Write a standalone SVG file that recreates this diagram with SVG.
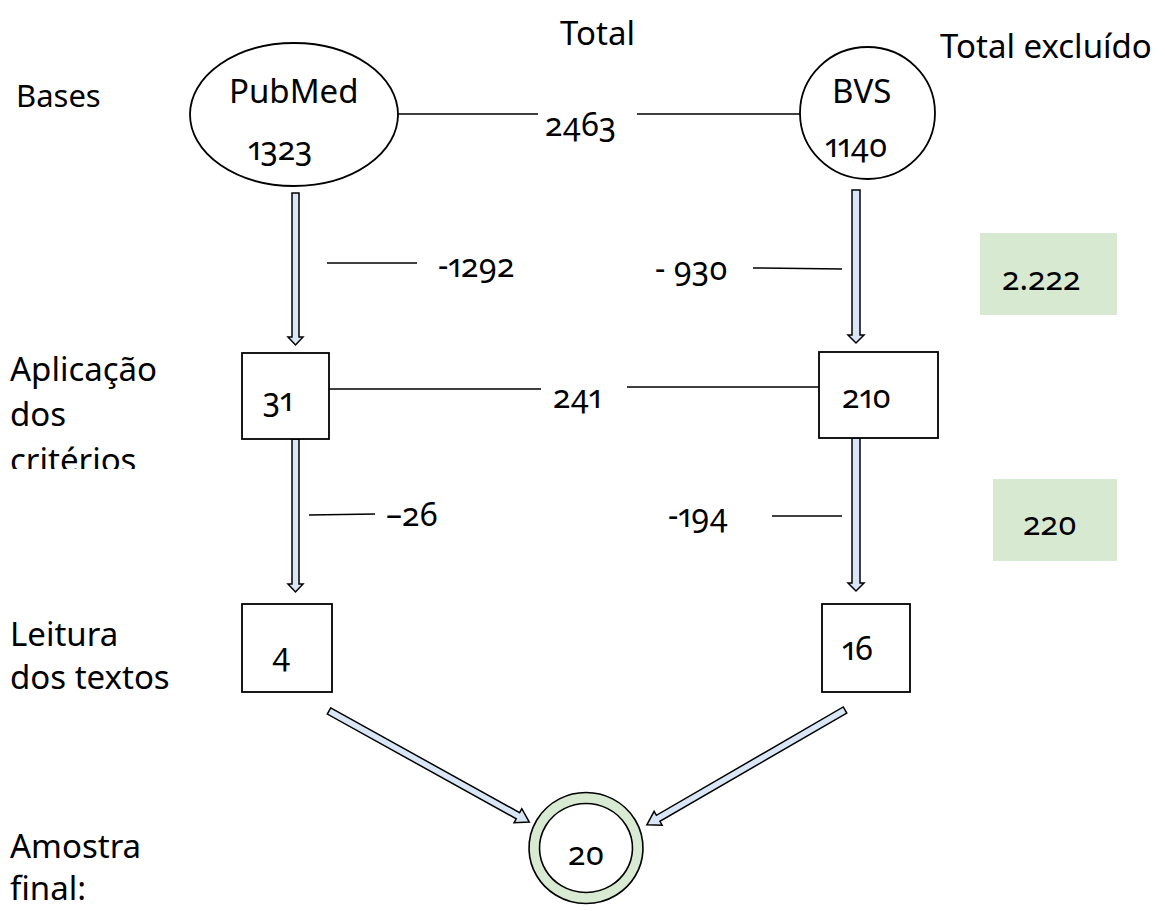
<svg xmlns="http://www.w3.org/2000/svg" width="1165" height="911" viewBox="0 0 1165 911">
<style>
  text { font-family: "Noto Sans", "Open Sans", "DejaVu Sans", sans-serif; fill: #000; font-variant-numeric: oldstyle-nums proportional-nums; }
  .lbl { font-size: 33px; }
  .num { font-size: 32px; }
  .node { fill: #fff; stroke: #000; stroke-width: 1.8; }
  .conn { stroke: #000; stroke-width: 1.5; fill: none; }
  .arr { fill: #d9e6f5; stroke: #000; stroke-width: 1.5; stroke-linejoin: miter; }
  .green { fill: #d8e9d2; }
</style>
<defs>
  <clipPath id="clipCrit"><rect x="0" y="330" width="220" height="139"/></clipPath>
</defs>

<g id="labels">
  <text class="lbl" x="16" y="107" style="font-size:31px">Bases</text>
  <text class="lbl" x="560" y="45">Total</text>
  <text class="lbl" x="940" y="58">Total excluído</text>
  <g clip-path="url(#clipCrit)">
    <text class="lbl" x="10" y="381">Aplicação</text>
    <text class="lbl" x="10" y="426">dos</text>
    <text class="lbl" x="10" y="472">critérios</text>
  </g>
  <text class="lbl" x="10" y="646">Leitura</text>
  <text class="lbl" x="10" y="689">dos textos</text>
  <text class="lbl" x="10" y="858">Amostra</text>
  <text class="lbl" x="10" y="900">final:</text>
</g>

<g id="connectors">
  <line class="conn" x1="397" y1="114" x2="538" y2="114"/>
  <line class="conn" x1="637" y1="114" x2="800" y2="114"/>
  <line class="conn" x1="327" y1="263" x2="417" y2="263"/>
  <line class="conn" x1="753" y1="268" x2="842" y2="269"/>
  <line class="conn" x1="329" y1="389" x2="541" y2="389"/>
  <line class="conn" x1="627" y1="387" x2="819" y2="387"/>
  <line class="conn" x1="309" y1="515" x2="375" y2="514"/>
  <line class="conn" x1="772" y1="516" x2="842" y2="516"/>
  <text class="num" x="545" y="136">2463</text>
  <text class="num" x="438" y="277">-1292</text>
  <text class="num" x="655" y="280">- 930</text>
  <text class="num" x="553" y="408">241</text>
  <text class="num" x="386" y="526">–26</text>
  <text class="num" x="668" y="527">-194</text>
  <path class="arr" d="M292,193 L299,193 L299,337 L303,337 L295.5,345 L288,337 L292,337 Z"/>
  <path class="arr" d="M852,190 L860,190 L860,335 L864,335 L856,343 L848,335 L852,335 Z"/>
  <path class="arr" d="M292,439 L299,439 L299,584 L303,584 L295.5,592 L288,584 L292,584 Z"/>
  <path class="arr" d="M852,438 L860,438 L860,583 L864,583 L856,591 L848,583 L852,583 Z"/>
  <path class="arr" transform="translate(329,711) rotate(29)" d="M0,-3.5 L216,-3.5 L216,-8 L229,0 L216,8 L216,3.5 L0,3.5 Z"/>
  <path class="arr" transform="translate(845,710) rotate(149.9)" d="M0,-3.5 L216,-3.5 L216,-8 L229,0 L216,8 L216,3.5 L0,3.5 Z"/>
</g>

<g id="node-pubmed">
  <ellipse class="node" cx="294" cy="114.5" rx="104" ry="71.5"/>
  <text class="lbl" x="229" y="103">PubMed</text>
  <text class="num" x="248" y="160">1323</text>
</g>
<g id="node-bvs">
  <ellipse class="node" cx="867.5" cy="113" rx="67.5" ry="66"/>
  <text class="lbl" x="832" y="103">BVS</text>
  <text class="num" x="825" y="157">1140</text>
</g>
<g id="node-31">
  <rect class="node" x="242" y="353" width="87" height="86"/>
  <text class="num" x="263" y="411">31</text>
</g>
<g id="node-210">
  <rect class="node" x="819" y="352" width="119" height="86"/>
  <text class="num" x="842" y="408">210</text>
</g>
<g id="node-4">
  <rect class="node" x="242" y="604" width="90" height="88"/>
  <text class="num" x="272" y="666">4</text>
</g>
<g id="node-16">
  <rect class="node" x="822" y="604" width="88" height="88"/>
  <text class="num" x="842" y="660">16</text>
</g>
<g id="node-excl1">
  <rect class="green" x="980" y="233" width="137" height="82"/>
  <text class="num" x="1002" y="290">2.222</text>
</g>
<g id="node-excl2">
  <rect class="green" x="993" y="479" width="124" height="82"/>
  <text class="num" x="1023" y="535">220</text>
</g>
<g id="node-final">
  <path d="M586,792.5 a57,55.5 0 1,0 0.01,0 Z M586,803.5 a46.5,44.5 0 1,0 0.01,0 Z" fill="#d9ead3" fill-rule="evenodd" stroke="#000" stroke-width="1.6"/>
  <text class="num" x="568" y="865">20</text>
</g>
</svg>
